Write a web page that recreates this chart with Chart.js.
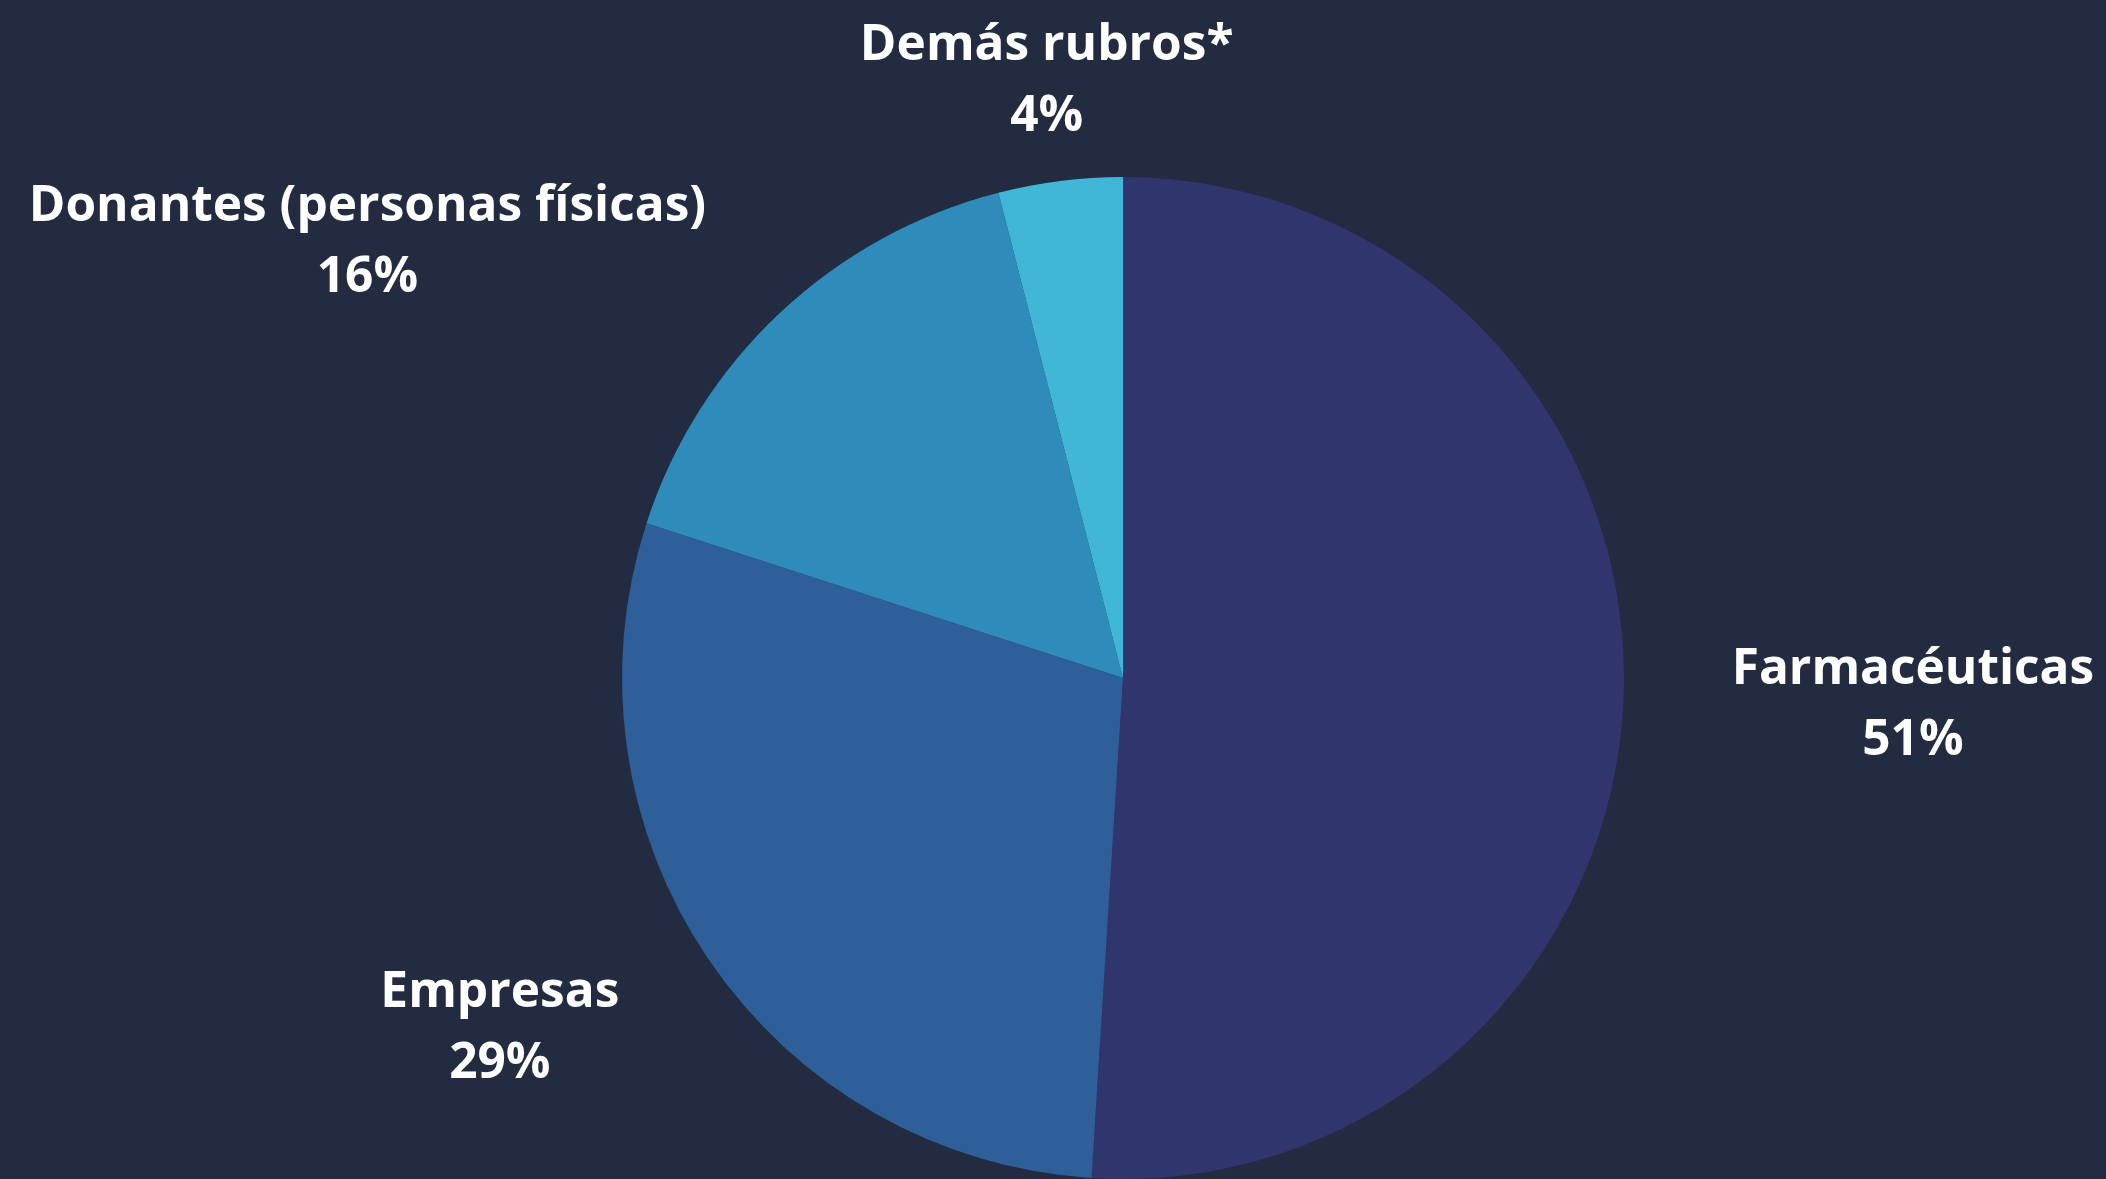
<!DOCTYPE html>
<html>
<head>
<meta charset="utf-8">
<script src="https://cdn.jsdelivr.net/npm/chart.js@4"></script>
<style>
  html, body { margin:0; padding:0; background:#222b40; }
  #wrap { width:2106px; height:1179px; position:relative; }
</style>
</head>
<body>
<div id="wrap"><canvas id="pieChart"></canvas></div>
<script>
    const categorias = ["Farmacéuticas", "Empresas", "Donantes (personas físicas)", "Demás rubros*"];
    const porcentajes = [51, 29, 16, 4];
    const colores = ['#31356d', '#2e5f98', '#2e8bba', '#41b7d8'];

    // etiquetas fuera de la torta, ancladas al ángulo medio de cada porción
    const etiquetasPlugin = {
      id: 'etiquetas',
      afterDatasetsDraw(chart) {
        const ctx = chart.ctx;
        const meta = chart.getDatasetMeta(0);
        const gap = 108;
        const lineH = 71;
        ctx.save();
        ctx.fillStyle = '#ffffff';
        ctx.font = 'bold 49.6px "Open Sans"';
        ctx.textBaseline = 'middle';
        meta.data.forEach((arc, i) => {
          const p = arc.getProps(['x','y','startAngle','endAngle','outerRadius'], true);
          const mid = (p.startAngle + p.endAngle) / 2;
          const r = p.outerRadius + gap;
          const px = p.x + Math.cos(mid) * r;
          const py = p.y + Math.sin(mid) * r + 8;
          const lineas = [categorias[i], porcentajes[i] + '%'];
          const anchos = lineas.map(t => ctx.measureText(t).width);
          const w = Math.max(...anchos);
          let cx;
          if (Math.cos(mid) > 0.3) cx = px + w / 2;
          else if (Math.cos(mid) < -0.3) cx = px - w / 2;
          else cx = px;
          ctx.textAlign = 'center';
          ctx.fillText(lineas[0], cx, py - lineH / 2);
          ctx.fillText(lineas[1], cx, py + lineH / 2);
        });
        ctx.restore();
      }
    };

    const ctx = document.getElementById('pieChart').getContext('2d');
    const pieChart = new Chart(ctx, {
      type: 'pie',
      data: {
        labels: categorias,
        datasets: [{
          data: porcentajes,
          backgroundColor: colores,
          borderWidth: 0
        }]
      },
      options: {
        responsive: true,
        maintainAspectRatio: false,
        animation: false,
        layout: { padding: { left: 140, top: 177, right: 0, bottom: 0 } },
        plugins: {
          legend: { display: false },
          tooltip: { enabled: false }
        }
      },
      plugins: [etiquetasPlugin]
    });
</script>
</body>
</html>
